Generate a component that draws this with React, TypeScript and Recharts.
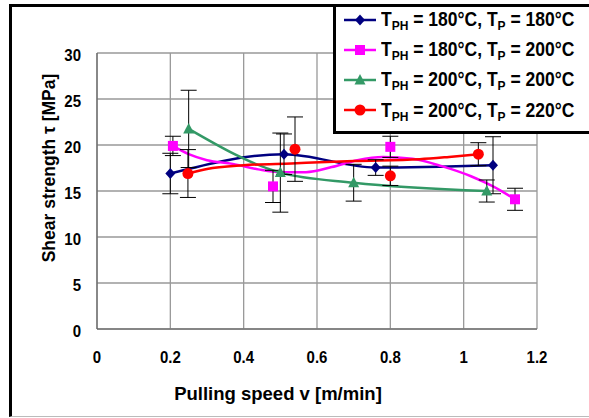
import React from 'react';
import {
  ComposedChart,
  Line,
  Scatter,
  XAxis,
  YAxis,
  CartesianGrid,
  ErrorBar,
  Legend,
} from 'recharts';

// measured points (pulling speed v, shear strength tau, +/- error)
const speedBlue = [0.2, 0.51, 0.76, 1.08];
const tauBlue = [16.9, 19.0, 17.55, 17.8];
const errBlue = [2.2, 2.2, 0.85, 3.1];

const speedPink = [0.207, 0.48, 0.8, 1.14];
const tauPink = [19.9, 15.5, 19.8, 14.1];
const errPink = [1.05, 1.75, 1.15, 1.2];

const speedGreen = [0.25, 0.5, 0.7, 1.063];
const tauGreen = [21.75, 17.0, 15.9, 15.0];
const errGreen = [4.2, 4.3, 2.0, 1.2];

const speedRed = [0.248, 0.54, 0.8, 1.04];
const tauRed = [16.9, 19.55, 16.65, 19.0];
const errRed = [2.6, 3.5, 1.05, 1.25];

// pink and red curves don't pass through their points, read off separately
const curveSpeedPink = [0.207, 0.25, 0.3, 0.37, 0.44, 0.5, 0.57, 0.64, 0.71, 0.78, 0.86, 0.94, 1.02, 1.08, 1.14];
const curveTauPink = [19.9, 19.0, 18.35, 17.95, 17.35, 17.05, 17.05, 17.6, 18.35, 18.7, 18.5, 17.7, 16.6, 15.5, 14.1];
const curveSpeedRed = [0.248, 0.3, 0.4, 0.53, 0.7, 0.88, 0.96, 1.04];
const curveTauRed = [16.9, 17.4, 17.8, 18.0, 18.25, 18.45, 18.7, 19.0];

// legend temperatures
const tempPH = [180, 180, 200, 200];
const tempP = [180, 200, 200, 220];

const xTicks = [0, 0.2, 0.4, 0.6, 0.8, 1, 1.2];
const yTicks = [0, 5, 10, 15, 20, 25, 30];

const FONT = "Arial, 'Liberation Sans', sans-serif";
const STRETCH = 1.14; // text in the original is a bit taller than wide

const rows = (v: number[], t: number[], e?: number[]) =>
  v.map((x, i) => ({ v: x, t: t[i], err: e ? e[i] : 0 }));

type ShapeKind = 'diamond' | 'square' | 'triangle' | 'circle';

function Marker({ cx, cy, kind, color }: { cx: number; cy: number; kind: ShapeKind; color: string }) {
  if (kind === 'diamond')
    return <polygon points={`${cx},${cy - 5.5} ${cx + 5},${cy} ${cx},${cy + 5.5} ${cx - 5},${cy}`} fill={color} />;
  if (kind === 'square') return <rect x={cx - 5} y={cy - 5} width={10} height={10} fill={color} />;
  if (kind === 'triangle')
    return <polygon points={`${cx},${cy - 6} ${cx + 5.5},${cy + 4.5} ${cx - 5.5},${cy + 4.5}`} fill={color} />;
  return <circle cx={cx} cy={cy} r={5.5} fill={color} />;
}

const series = [
  { key: 'blue', color: '#000080', kind: 'diamond' as ShapeKind, pts: rows(speedBlue, tauBlue, errBlue), curve: rows(speedBlue, tauBlue) },
  { key: 'pink', color: '#FF00FF', kind: 'square' as ShapeKind, pts: rows(speedPink, tauPink, errPink), curve: rows(curveSpeedPink, curveTauPink) },
  { key: 'green', color: '#339966', kind: 'triangle' as ShapeKind, pts: rows(speedGreen, tauGreen, errGreen), curve: rows(speedGreen, tauGreen) },
  { key: 'red', color: '#FF0000', kind: 'circle' as ShapeKind, pts: rows(speedRed, tauRed, errRed), curve: rows(curveSpeedRed, curveTauRed) },
];

const stretchAt = (y: number) => `translate(0 ${y}) scale(1 ${STRETCH}) translate(0 ${-y})`;

const XTick = ({ x, y, payload }: any) => (
  <text x={x} y={y} dy="0.71em" textAnchor="middle" fontSize={15} fontWeight="bold" fill="#000" fontFamily={FONT} transform={stretchAt(y)}>
    {payload.value}
  </text>
);

const YTick = ({ x, y, payload }: any) => (
  <text x={x} y={y} dy="0.45em" textAnchor="end" fontSize={15} fontWeight="bold" fill="#000" fontFamily={FONT} transform={stretchAt(y)}>
    {payload.value}
  </text>
);

const sub = { fontSize: 12, position: 'relative' as const, top: 4 };

function LegendBox() {
  return (
    <div
      style={{
        position: 'relative',
        width: 262,
        height: 130,
        boxSizing: 'border-box',
        background: '#fff',
        borderTop: '3px solid #000',
        borderLeft: '3px solid #000',
        borderBottom: '3px solid #000',
        fontFamily: FONT,
        fontWeight: 'bold',
        fontSize: 17.5,
        color: '#000',
      }}
    >
      {series.map((s, i) => (
        <div
          key={s.key}
          style={{ position: 'absolute', left: 8, top: 0.5 + i * 30.2, height: 24, display: 'flex', alignItems: 'center', whiteSpace: 'nowrap' }}
        >
          <svg width={32} height={16} style={{ display: 'block' }}>
            <line x1={0} y1={8} x2={32} y2={8} stroke={s.color} strokeWidth={2.5} />
            <Marker cx={16} cy={8} kind={s.kind} color={s.color} />
          </svg>
          <span style={{ marginLeft: 5, display: 'inline-block', transform: `scaleY(${STRETCH})` }}>
            T<span style={sub}>PH</span> = {tempPH[i]}°C, T<span style={sub}>P</span> = {tempP[i]}°C
          </span>
        </div>
      ))}
    </div>
  );
}

export default function App() {
  return (
    <div style={{ position: 'absolute', left: 0, top: 0, width: 589, height: 418, overflow: 'hidden', background: '#fff' }}>
      <div
        style={{
          position: 'absolute',
          left: 9,
          top: 4,
          width: 620,
          height: 413,
          boxSizing: 'border-box',
          borderTop: '3px solid #000',
          borderLeft: '3px solid #000',
          borderBottom: '1px solid #bbb',
        }}
      />
      <div style={{ position: 'absolute', left: 0, top: 0 }}>
        <ComposedChart width={589} height={418} margin={{ top: 53, right: 52, bottom: 9, left: 10 }}>
          <CartesianGrid stroke="#999" strokeWidth={1.3} />
          <XAxis
            type="number"
            dataKey="v"
            domain={[0, 1.2]}
            ticks={xTicks}
            height={80}
            tickLine={false}
            tickSize={0}
            tickMargin={22}
            stroke="#777"
            strokeWidth={1.5}
            tick={<XTick />}
            label={{
              value: 'Pulling speed v [m/min]',
              position: 'insideBottom',
              offset: 9,
              dx: -39,
              style: { fontSize: 18.5, fontWeight: 'bold', fill: '#000', fontFamily: FONT },
            }}
          />
          <YAxis
            type="number"
            domain={[0, 30]}
            ticks={yTicks}
            width={87}
            tickLine={false}
            tickSize={0}
            tickMargin={16}
            stroke="#555"
            tick={<YTick />}
            label={{
              value: 'Shear strength τ [MPa]',
              angle: -90,
              position: 'insideLeft',
              offset: 39,
              dy: -23,
              style: { textAnchor: 'middle', fontSize: 17.5, fontWeight: 'bold', fill: '#000', fontFamily: FONT },
            }}
          />
          {series.map((s) => (
            <Line
              key={`l-${s.key}`}
              data={s.curve}
              dataKey="t"
              type="monotone"
              stroke={s.color}
              strokeWidth={2.5}
              dot={false}
              activeDot={false}
              isAnimationActive={false}
            />
          ))}
          {series.map((s) => (
            <Scatter
              key={`s-${s.key}`}
              data={s.pts}
              dataKey="t"
              isAnimationActive={false}
              shape={(p: any) => <Marker cx={p.cx} cy={p.cy} kind={s.kind} color={s.color} />}
            >
              <ErrorBar dataKey="err" direction="y" width={8} stroke="#000" strokeWidth={1} />
            </Scatter>
          ))}
          <Legend
            layout="horizontal"
            verticalAlign="middle"
            align="center"
            wrapperStyle={{ left: 333, top: 4, width: 262, height: 130 }}
            content={() => <LegendBox />}
          />
        </ComposedChart>
      </div>
    </div>
  );
}
